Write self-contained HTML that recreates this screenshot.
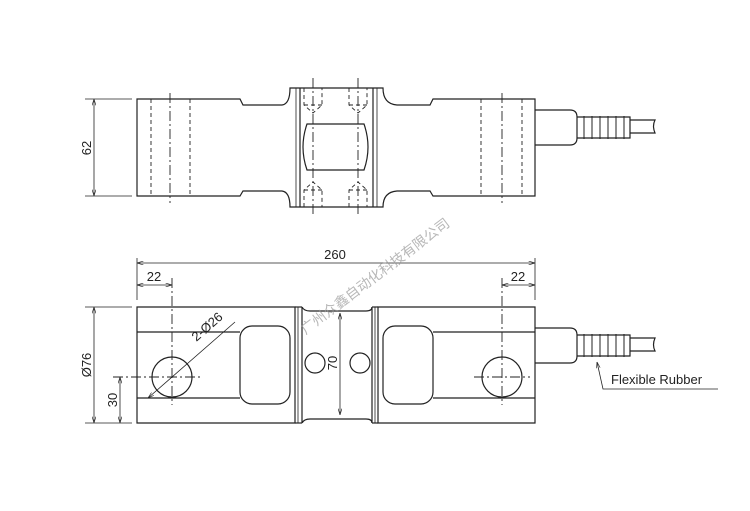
<!DOCTYPE html>
<html><head><meta charset="utf-8"><style>
html,body{margin:0;padding:0;background:#fff;}
svg{display:block;}
text{font-family:"Liberation Sans",sans-serif;fill:#222;}
</style></head><body>
<svg width="750" height="511" viewBox="0 0 750 511" xmlns="http://www.w3.org/2000/svg">
<defs><marker id="a" viewBox="0 0 10 6" refX="10" refY="3" markerWidth="8" markerHeight="5" orient="auto-start-reverse"><path d="M0,0 L10,3 L0,6" fill="none" stroke="#222" stroke-width="1"/></marker></defs>
<g fill="none" stroke="#222" stroke-width="1.2">
<!-- TOP VIEW -->
<path d="M137,99 H240 L243,105 H282 Q290,104 290,88 H383 Q383,104 397,105 H430 L433,99 H535 V196 H433 L430,191 H397 Q383,192 383,207 H290 Q290,192 282,191 H243 L240,196 H137 Z"/>
<line x1="300" y1="88" x2="300" y2="207"/><line x1="296" y1="88" x2="296" y2="207" stroke-width="0.8"/>
<line x1="373" y1="88" x2="373" y2="207"/><line x1="377" y1="88" x2="377" y2="207" stroke-width="0.8"/>
<path d="M307,124 H364 Q372,147 364,170 H307 Q299,147 307,124 Z"/>
<g stroke-width="0.9" stroke-dasharray="4,3">
<line x1="151" y1="99" x2="151" y2="196"/><line x1="190" y1="99" x2="190" y2="196"/>
<line x1="481" y1="99" x2="481" y2="196"/><line x1="522" y1="99" x2="522" y2="196"/>
<path d="M304,88 V105 L313,113 L322,105 V88 M304,105 H322"/>
<path d="M349,88 V105 L358,113 L367,105 V88 M349,105 H367"/>
<path d="M304,207 V190 L313,182 L322,190 V207 M304,190 H322"/>
<path d="M349,207 V190 L358,182 L367,190 V207 M349,190 H367"/>
</g>
<g stroke-width="0.9" stroke-dasharray="10,3,2,3">
<line x1="170" y1="93" x2="170" y2="203"/><line x1="502" y1="93" x2="502" y2="203"/>
<line x1="313" y1="78" x2="313" y2="215"/><line x1="358" y1="78" x2="358" y2="215"/>
</g>
<path d="M535,110 H570 Q577,110 577,117 V138 Q577,145 570,145 H535"/>
<path d="M577,117 H630 V138 H577"/>
<g stroke-width="1"><line x1="584" y1="116" x2="584" y2="139"/><line x1="592" y1="116" x2="592" y2="139"/><line x1="600" y1="116" x2="600" y2="139"/><line x1="608" y1="116" x2="608" y2="139"/><line x1="616" y1="116" x2="616" y2="139"/><line x1="624" y1="116" x2="624" y2="139"/></g>
<path d="M630,120 H655 Q652,126 655,133 H630"/>
<!-- dims top -->
<g stroke-width="0.8"><line x1="85" y1="99" x2="132" y2="99"/><line x1="85" y1="196" x2="132" y2="196"/>
<line x1="94" y1="99" x2="94" y2="196" marker-start="url(#a)" marker-end="url(#a)"/></g>

<!-- BOTTOM VIEW -->
<path d="M137,307 H295 V423 H137 Z"/>
<path d="M378,307 H535 V423 H378 Z"/>
<path d="M302,307 Q304,311 310,311 H366 Q372,311 372,307 M302,423 Q304,419 310,419 H366 Q372,419 372,423"/>
<line x1="295" y1="307" x2="302" y2="307"/><line x1="295" y1="423" x2="302" y2="423"/>
<line x1="372" y1="307" x2="378" y2="307"/><line x1="372" y1="423" x2="378" y2="423"/>
<line x1="302" y1="307" x2="302" y2="423"/><line x1="372" y1="307" x2="372" y2="423"/>
<line x1="298" y1="307" x2="298" y2="423" stroke-width="0.8"/><line x1="375" y1="307" x2="375" y2="423" stroke-width="0.8"/>
<line x1="137" y1="332" x2="240" y2="332"/><line x1="137" y1="398" x2="240" y2="398"/>
<line x1="433" y1="332" x2="535" y2="332"/><line x1="433" y1="398" x2="535" y2="398"/>
<rect x="240" y="326" width="50" height="78" rx="12"/>
<rect x="383" y="326" width="50" height="78" rx="12"/>
<circle cx="315" cy="363" r="10"/><circle cx="360" cy="363" r="10"/>
<circle cx="172" cy="377" r="20"/><circle cx="502" cy="377" r="20"/>
<g stroke-width="0.9" stroke-dasharray="10,3,2,3">
<line x1="172" y1="278" x2="172" y2="405"/><line x1="113" y1="377" x2="200" y2="377"/>
<line x1="502" y1="278" x2="502" y2="405"/><line x1="474" y1="377" x2="530" y2="377"/>
</g>
<path d="M535,328 H570 Q577,328 577,335 V356 Q577,363 570,363 H535"/>
<path d="M577,335 H630 V356 H577"/>
<g stroke-width="1"><line x1="584" y1="334" x2="584" y2="357"/><line x1="592" y1="334" x2="592" y2="357"/><line x1="600" y1="334" x2="600" y2="357"/><line x1="608" y1="334" x2="608" y2="357"/><line x1="616" y1="334" x2="616" y2="357"/><line x1="624" y1="334" x2="624" y2="357"/></g>
<path d="M630,338 H655 Q652,345 655,351 H630"/>
<!-- dims bottom -->
<g stroke-width="0.8">
<line x1="137" y1="258" x2="137" y2="300"/><line x1="535" y1="258" x2="535" y2="300"/>
<line x1="137" y1="263" x2="535" y2="263" marker-start="url(#a)" marker-end="url(#a)"/>
<line x1="137" y1="285" x2="172" y2="285" marker-start="url(#a)" marker-end="url(#a)"/>
<line x1="502" y1="285" x2="535" y2="285" marker-start="url(#a)" marker-end="url(#a)"/>
<line x1="85" y1="307" x2="132" y2="307"/><line x1="85" y1="423" x2="132" y2="423"/>
<line x1="94" y1="307" x2="94" y2="423" marker-start="url(#a)" marker-end="url(#a)"/>
<line x1="120" y1="377" x2="120" y2="423" marker-start="url(#a)" marker-end="url(#a)"/>
<line x1="340" y1="313" x2="340" y2="415" marker-start="url(#a)" marker-end="url(#a)"/>
<line x1="148" y1="398" x2="235" y2="322" marker-start="url(#a)"/>
<path d="M597,362 L603,389 H718" marker-start="url(#a)"/>
</g>
</g>
<g font-size="13">
<text x="91" y="148" text-anchor="middle" transform="rotate(-90 91 148)">62</text>
<text x="335" y="259" text-anchor="middle">260</text>
<text x="154" y="281" text-anchor="middle">22</text>
<text x="518" y="281" text-anchor="middle">22</text>
<text x="91" y="365" text-anchor="middle" transform="rotate(-90 91 365)">Ø76</text>
<text x="117" y="400" text-anchor="middle" transform="rotate(-90 117 400)">30</text>
<text x="337" y="363" text-anchor="middle" transform="rotate(-90 337 363)">70</text>
<text x="210" y="330" text-anchor="middle" transform="rotate(-41 210 330)">2-Ø26</text>
<text x="611" y="384">Flexible Rubber</text>
</g>
<text x="378" y="280" font-size="14" text-anchor="middle" transform="rotate(-37 378 280)" style="fill:#999;font-family:'Liberation Sans','Noto Sans CJK SC',sans-serif;fill-opacity:0.7">广州众鑫自动化科技有限公司</text>
</svg>
</body></html>
